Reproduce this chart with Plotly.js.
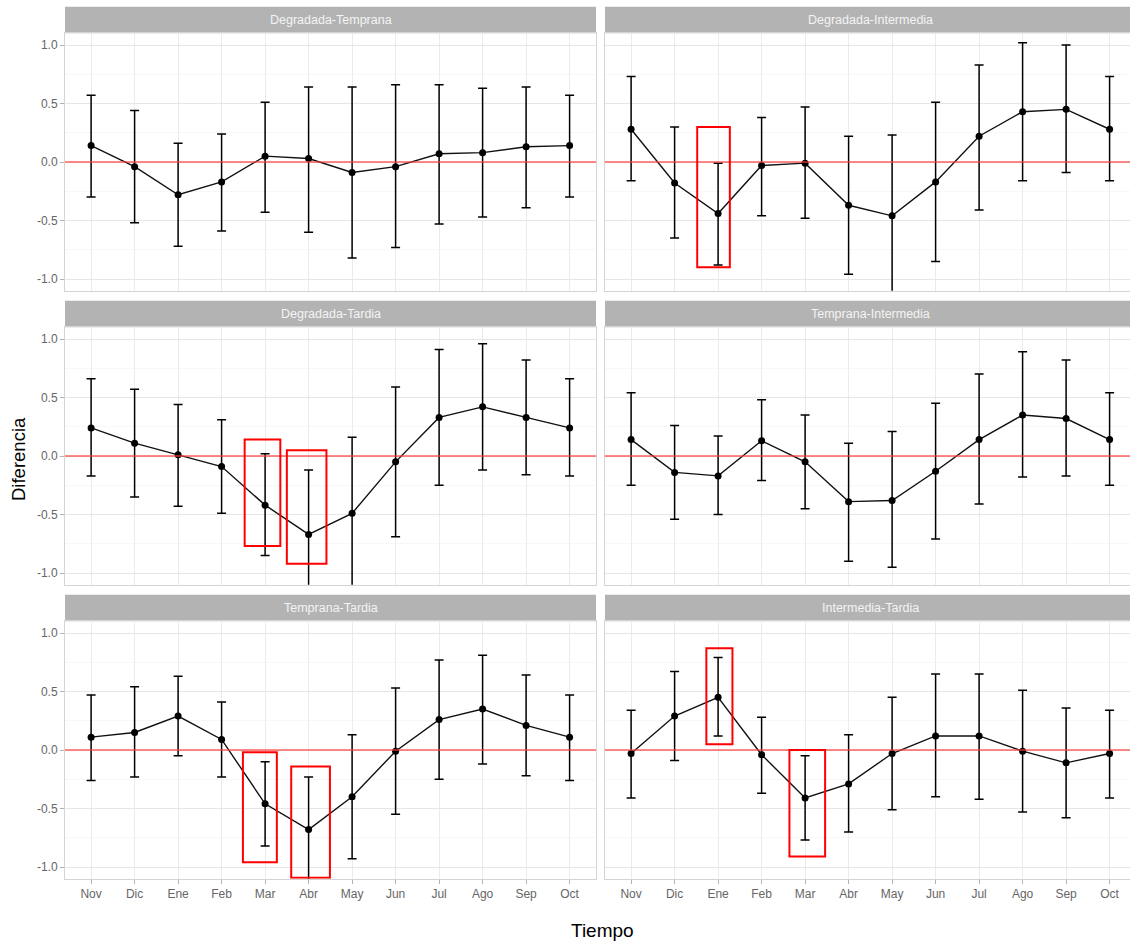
<!DOCTYPE html>
<html>
<head>
<meta charset="utf-8">
<script src="https://cdn.plot.ly/plotly-3.0.1.min.js"></script>
<style>html,body{margin:0;padding:0;background:#fff;}#chart{width:1130px;height:942px;}</style>
</head>
<body>
<div id="chart"></div>
<script>
// ---- Data ----
const months = ['Nov','Dic','Ene','Feb','Mar','Abr','May','Jun','Jul','Ago','Sep','Oct'];
const panelTitles = ['Degradada-Temprana','Degradada-Intermedia','Degradada-Tardia','Temprana-Intermedia','Temprana-Tardia','Intermedia-Tardia'];

const degTempEst = [0.14,-0.04,-0.28,-0.17,0.05,0.03,-0.09,-0.04,0.07,0.08,0.13,0.14];
const degTempLo  = [-0.30,-0.52,-0.72,-0.59,-0.43,-0.60,-0.82,-0.73,-0.53,-0.47,-0.39,-0.30];
const degTempHi  = [0.57,0.44,0.16,0.24,0.51,0.64,0.64,0.66,0.66,0.63,0.64,0.57];

const degInterEst = [0.28,-0.18,-0.44,-0.03,-0.01,-0.37,-0.46,-0.17,0.22,0.43,0.45,0.28];
const degInterLo  = [-0.16,-0.65,-0.88,-0.46,-0.48,-0.96,-1.15,-0.85,-0.41,-0.16,-0.09,-0.16];
const degInterHi  = [0.73,0.30,-0.01,0.38,0.47,0.22,0.23,0.51,0.83,1.02,1.00,0.73];

const degTardEst = [0.24,0.11,0.01,-0.09,-0.42,-0.67,-0.49,-0.05,0.33,0.42,0.33,0.24];
const degTardLo  = [-0.17,-0.35,-0.43,-0.49,-0.85,-1.21,-1.15,-0.69,-0.25,-0.12,-0.16,-0.17];
const degTardHi  = [0.66,0.57,0.44,0.31,0.02,-0.12,0.16,0.59,0.91,0.96,0.82,0.66];

const tempInterEst = [0.14,-0.14,-0.17,0.13,-0.05,-0.39,-0.38,-0.13,0.14,0.35,0.32,0.14];
const tempInterLo  = [-0.25,-0.54,-0.50,-0.21,-0.45,-0.90,-0.95,-0.71,-0.41,-0.18,-0.17,-0.25];
const tempInterHi  = [0.54,0.26,0.17,0.48,0.35,0.11,0.21,0.45,0.70,0.89,0.82,0.54];

const tempTardEst = [0.11,0.15,0.29,0.09,-0.46,-0.68,-0.40,-0.01,0.26,0.35,0.21,0.11];
const tempTardLo  = [-0.26,-0.23,-0.05,-0.23,-0.82,-1.13,-0.93,-0.55,-0.25,-0.12,-0.22,-0.26];
const tempTardHi  = [0.47,0.54,0.63,0.41,-0.10,-0.23,0.13,0.53,0.77,0.81,0.64,0.47];

const interTardEst = [-0.03,0.29,0.45,-0.04,-0.41,-0.29,-0.03,0.12,0.12,-0.01,-0.11,-0.03];
const interTardLo  = [-0.41,-0.09,0.12,-0.37,-0.77,-0.70,-0.51,-0.40,-0.42,-0.53,-0.58,-0.41];
const interTardHi  = [0.34,0.67,0.79,0.28,-0.05,0.13,0.45,0.65,0.65,0.51,0.36,0.34];

// highlighted cells (panel number, x from, x to, y from, y to)
const highlightPanel = [2,3,3,5,5,6,6];
const highlightX0 = [1.52,3.53,4.50,3.49,4.60,1.73,3.64];
const highlightX1 = [2.27,4.35,5.41,4.27,5.49,2.33,4.46];
const highlightY0 = [-0.90,-0.77,-0.92,-0.96,-1.092,0.05,-0.91];
const highlightY1 = [0.30,0.14,0.05,-0.02,-0.14,0.87,0.00];

const yTickVals = [-1,-0.5,0,0.5,1];
const yTickText = ['-1.0','-0.5','0.0','0.5','1.0'];

const panelEst = [degTempEst,degInterEst,degTardEst,tempInterEst,tempTardEst,interTardEst];
const panelLo  = [degTempLo,degInterLo,degTardLo,tempInterLo,tempTardLo,interTardLo];
const panelHi  = [degTempHi,degInterHi,degTardHi,tempInterHi,tempTardHi,interTardHi];

// ---- Layout geometry (pixels) ----
const W = 1130, H = 942;
const colX = [[65,596],[605,1130]];
const xStep = 43.5;
const rowTop = [33.3, 327.3, 621.3];
const rowBot = [290.7, 584.7, 878.7];
const stripH = 26.5;
const FONT = 'Liberation Sans, Arial, sans-serif';

const traces = [];
const shapes = [];
const annotations = [];
const layout = {
  width: W, height: H,
  margin: {l:0, r:0, t:0, b:0},
  paper_bgcolor: '#ffffff',
  plot_bgcolor: '#ffffff',
  showlegend: false,
  font: {family: FONT},
  shapes: shapes,
  annotations: annotations
};

for (let i = 0; i < 6; i++) {
  const row = Math.floor(i/2), col = i%2;
  const sfx = i === 0 ? '' : String(i+1);
  const xa = 'x'+sfx, ya = 'y'+sfx;
  const est = panelEst[i], lo = panelLo[i], hi = panelHi[i];
  traces.push({
    type: 'scatter', mode: 'lines+markers',
    x: months, y: est, xaxis: xa, yaxis: ya,
    line: {color: '#111111', width: 1.4},
    marker: {color: '#000000', size: 7},
    error_y: {
      type: 'data', symmetric: false,
      array: hi.map((h,k) => h - est[k]),
      arrayminus: lo.map((l,k) => est[k] - l),
      color: '#000000', thickness: 1.5, width: 4.5
    },
    hoverinfo: 'x+y'
  });
  const x0 = colX[col][0], x1 = colX[col][1];
  const rangeMax = -0.6 + (x1 - x0)/xStep;
  layout['xaxis'+sfx] = {
    type: 'category', categoryorder: 'array', categoryarray: months,
    domain: [x0/W, x1/W], range: [-0.6, rangeMax], anchor: ya,
    showgrid: true, gridcolor: '#ebebeb', gridwidth: 1,
    showline: true, mirror: true, linecolor: '#d4d4d4', linewidth: 1,
    zeroline: false,
    ticks: row === 2 ? 'outside' : '', ticklen: 4, tickcolor: '#b3b3b3', tickwidth: 1,
    showticklabels: row === 2,
    tickfont: {size: 12, color: '#666666', family: FONT},
    fixedrange: true
  };
  layout['yaxis'+sfx] = {
    domain: [1 - rowBot[row]/H, 1 - rowTop[row]/H], range: [-1.1, 1.1], anchor: xa,
    tickmode: 'array', tickvals: yTickVals, ticktext: yTickText,
    showgrid: true, gridcolor: '#e6e6e6', gridwidth: 1,
    minor: {tickmode: 'array', tickvals: [-0.75,-0.25,0.25,0.75], showgrid: true, gridcolor: '#f2f2f2', gridwidth: 0.6, ticks: ''},
    showline: true, mirror: true, linecolor: '#d4d4d4', linewidth: 1,
    zeroline: false,
    ticks: col === 0 ? 'outside' : '', ticklen: 4, tickcolor: '#b3b3b3', tickwidth: 1,
    showticklabels: col === 0,
    tickfont: {size: 12, color: '#666666', family: FONT},
    fixedrange: true
  };
  // strip
  shapes.push({
    type: 'rect', xref: 'paper', yref: 'paper', layer: 'below',
    x0: x0/W, x1: x1/W, y0: 1 - rowTop[row]/H, y1: 1 - (rowTop[row]-stripH)/H,
    fillcolor: '#b3b3b3', line: {width: 0}
  });
  annotations.push({
    xref: 'paper', yref: 'paper', x: (x0 + (col === 0 ? x1 : 1136))/2/W, y: 1 - (rowTop[row]-stripH/2)/H,
    text: panelTitles[i], showarrow: false, xanchor: 'center', yanchor: 'middle',
    font: {size: 12.5, color: '#f4f4f4', family: FONT}
  });
  // reference line at zero
  shapes.push({
    type: 'line', xref: 'paper', yref: ya, layer: 'above',
    x0: x0/W, x1: x1/W, y0: 0, y1: 0,
    line: {color: 'rgba(255,60,60,0.8)', width: 1.6}
  });
}

for (let k = 0; k < highlightPanel.length; k++) {
  const p = highlightPanel[k];
  const sfx = p === 1 ? '' : String(p);
  shapes.push({
    type: 'rect', xref: 'x'+sfx, yref: 'y'+sfx, layer: 'above',
    x0: highlightX0[k], x1: highlightX1[k], y0: highlightY0[k], y1: highlightY1[k],
    line: {color: '#ff0000', width: 2}, fillcolor: 'rgba(0,0,0,0)'
  });
}

annotations.push({
  xref: 'paper', yref: 'paper', x: 602/W, y: 1 - 930/H,
  text: 'Tiempo', showarrow: false, xanchor: 'center', yanchor: 'middle',
  font: {size: 19, color: '#000000', family: FONT}
});
annotations.push({
  xref: 'paper', yref: 'paper', x: 18/W, y: 1 - 459/H,
  text: 'Diferencia', showarrow: false, xanchor: 'center', yanchor: 'middle', textangle: -90,
  font: {size: 18.5, color: '#000000', family: FONT}
});

Plotly.newPlot('chart', traces, layout, {displayModeBar: false, staticPlot: true});
</script>
</body>
</html>
